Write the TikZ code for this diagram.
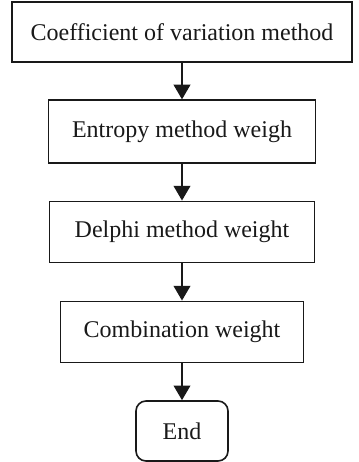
\documentclass[tikz,border=0pt]{standalone}
\usepackage{fontspec}
\setmainfont{Liberation Serif}
\usetikzlibrary{arrows.meta}

\begin{document}
\begin{tikzpicture}[x=0.75pt,y=-0.75pt,
    procbox/.style={draw=black!90,line width=1.2pt,inner sep=0pt,align=center,
      text=black!90,font=\fontsize{18}{21}\selectfont,minimum height=46pt},
    endbox/.style={procbox,rounded corners=7.5pt,minimum width=69pt,minimum height=45pt},
    flow/.style={draw=black!90,line width=1.3pt,-{Triangle[length=11pt,width=12.5pt]}}]
  \useasboundingbox (0,0) rectangle (359,462);
  \node[procbox,minimum width=255pt,minimum height=45pt] (coef) at (182,32) {Coefficient of variation method};
  \node[procbox,minimum width=200pt,minimum height=47pt] (entr) at (182,131.5) {Entropy method weigh};
  \node[procbox,minimum width=199pt] (delp) at (182,232) {Delphi method weight};
  \node[procbox,minimum width=182pt] (comb) at (182,332) {Combination weight};
  \node[endbox] (end) at (182,431) {End};
  \draw[flow] (coef) -- (entr);
  \draw[flow] (entr) -- (delp);
  \draw[flow] (delp) -- (comb);
  \draw[flow] (comb) -- (end);
\end{tikzpicture}
\end{document}
